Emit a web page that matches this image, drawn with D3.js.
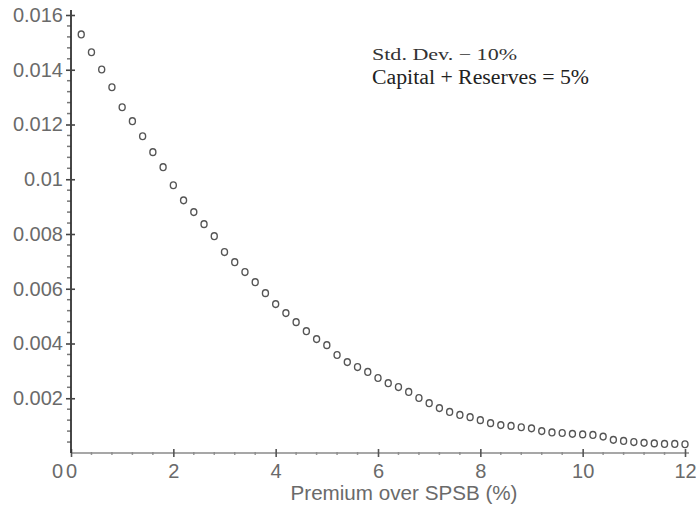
<!DOCTYPE html>
<html>
<head>
<meta charset="utf-8">
<script src="https://cdn.jsdelivr.net/npm/d3@7"></script>
<style>
  html, body { margin: 0; padding: 0; background: #fff; }
  svg { display: block; }
</style>
</head>
<body>
<svg id="chart" width="696" height="507"></svg>
<script>
// ---- Data ----
const premium = [0.2,0.4,0.6,0.8,1.0,1.2,1.4,1.6,1.8,2.0,2.2,2.4,2.6,2.8,3.0,3.2,3.4,3.6,3.8,4.0,
  4.2,4.4,4.6,4.8,5.0,5.2,5.4,5.6,5.8,6.0,6.2,6.4,6.6,6.8,7.0,7.2,7.4,7.6,7.8,8.0,
  8.2,8.4,8.6,8.8,9.0,9.2,9.4,9.6,9.8,10.0,10.2,10.4,10.6,10.8,11.0,11.2,11.4,11.6,11.8,12.0];
const probability = [0.01529,0.01464,0.01401,0.01336,0.01263,0.01212,0.01157,0.01099,0.01044,0.00978,
  0.00923,0.00880,0.00836,0.00792,0.00734,0.00697,0.00661,0.00624,0.00584,0.00544,
  0.00511,0.00478,0.00445,0.00416,0.00394,0.00358,0.00332,0.00314,0.00296,0.00274,
  0.00255,0.00241,0.00223,0.00201,0.00182,0.00164,0.00150,0.00139,0.00131,0.00120,
  0.00109,0.00102,0.00099,0.00094,0.00090,0.00080,0.00075,0.00073,0.00070,0.00068,
  0.00066,0.00060,0.00048,0.00044,0.00040,0.00037,0.00035,0.00033,0.00033,0.00032];
const xTickValues = [0,2,4,6,8,10,12];
const xTickLabels = ["0","2","4","6","8","10","12"];
const yTickValues = [0.002,0.004,0.006,0.008,0.010,0.012,0.014,0.016];
const yTickLabels = ["0.002","0.004","0.006","0.008","0.01","0.012","0.014","0.016"];
const xTitle = "Premium over SPSB  (%)";
const noteLines = ["Std. Dev. \u2212 10%", "Capital + Reserves = 5%"];

// ---- Layout ----
const svg = d3.select("#chart");
const x = d3.scaleLinear().domain([0, 12]).range([71, 685]);
const y = d3.scaleLinear().domain([0, 0.016]).range([453, 15]);
const labelColor = "#6a6a6a";
const font = "'Liberation Sans', Arial, sans-serif";

// minor ticks
const yMinor = d3.range(1, 41).map(i => i * 0.0004).filter(v => !yTickValues.some(t => Math.abs(t - v) < 1e-9));
svg.append("g").selectAll("line").data(yMinor).join("line")
  .attr("x1", x(0) - 4).attr("x2", x(0)).attr("y1", d => y(d)).attr("y2", d => y(d))
  .attr("stroke", "#777").attr("stroke-width", 1.5);
const xMinor = d3.range(1, 30).map(i => i * 0.4).filter(v => !xTickValues.some(t => Math.abs(t - v) < 1e-9));
svg.append("g").selectAll("line").data(xMinor).join("line")
  .attr("x1", d => x(d)).attr("x2", d => x(d)).attr("y1", y(0) - 1).attr("y2", y(0) + 2)
  .attr("stroke", "#999").attr("stroke-width", 1.5);

// x axis
const xAxis = d3.axisBottom(x).tickValues(xTickValues)
  .tickFormat((d, i) => xTickLabels[i]).tickSizeOuter(0).tickSizeInner(4).tickPadding(7);
const gx = svg.append("g").attr("transform", `translate(0,${y(0)})`).call(xAxis);
gx.select(".domain").attr("stroke", "#8a8a8a").attr("stroke-width", 1.6)
  .attr("d", `M${x(0)},0H${x(12) + 4}`);
gx.selectAll(".tick line").attr("y1", -4).attr("y2", 4).attr("stroke", "#555").attr("stroke-width", 1.6);
gx.selectAll(".tick text").attr("fill", labelColor).attr("font-size", 20).attr("font-family", font);

// y axis
const yAxis = d3.axisLeft(y).tickValues(yTickValues)
  .tickFormat((d, i) => yTickLabels[i]).tickSizeOuter(0).tickSizeInner(5).tickPadding(3);
const gy = svg.append("g").attr("transform", `translate(${x(0)},0)`).call(yAxis);
gy.select(".domain").attr("stroke", "#333").attr("stroke-width", 1.8)
  .attr("d", `M0,${y(0)}V${y(0.016) - 5}`);
gy.selectAll(".tick line").attr("x1", -5).attr("x2", 4).attr("stroke", "#444").attr("stroke-width", 1.6);
gy.selectAll(".tick text").attr("fill", labelColor).attr("font-size", 20).attr("font-family", font);

// y "0" label at the corner
svg.append("text").attr("x", x(0) - 8).attr("y", 478).attr("text-anchor", "end")
  .attr("fill", labelColor).attr("font-size", 20).attr("font-family", font).text("0");

// axis title
svg.append("text").attr("x", 404).attr("y", 500).attr("text-anchor", "middle")
  .attr("fill", labelColor).attr("font-size", 20).attr("font-family", font)
  .attr("textLength", 227).attr("lengthAdjust", "spacingAndGlyphs").text(xTitle);

// annotation
svg.append("text").attr("x", 372).attr("y", 60).attr("fill", "#333")
  .attr("font-size", 16).attr("font-family", "'Liberation Serif', 'Times New Roman', serif")
  .attr("textLength", 145).attr("lengthAdjust", "spacingAndGlyphs").text(noteLines[0]);
svg.append("text").attr("x", 372).attr("y", 84).attr("fill", "#222")
  .attr("font-size", 20).attr("font-family", "'Liberation Serif', 'Times New Roman', serif")
  .attr("textLength", 217).attr("lengthAdjust", "spacingAndGlyphs").text(noteLines[1]);

// points
svg.append("g").selectAll("ellipse").data(premium).join("ellipse")
  .attr("cx", d => x(d)).attr("cy", (d, i) => y(probability[i]))
  .attr("rx", 3).attr("ry", 3.4)
  .attr("fill", "none").attr("stroke", "#555").attr("stroke-width", 1.4);
</script>
</body>
</html>
